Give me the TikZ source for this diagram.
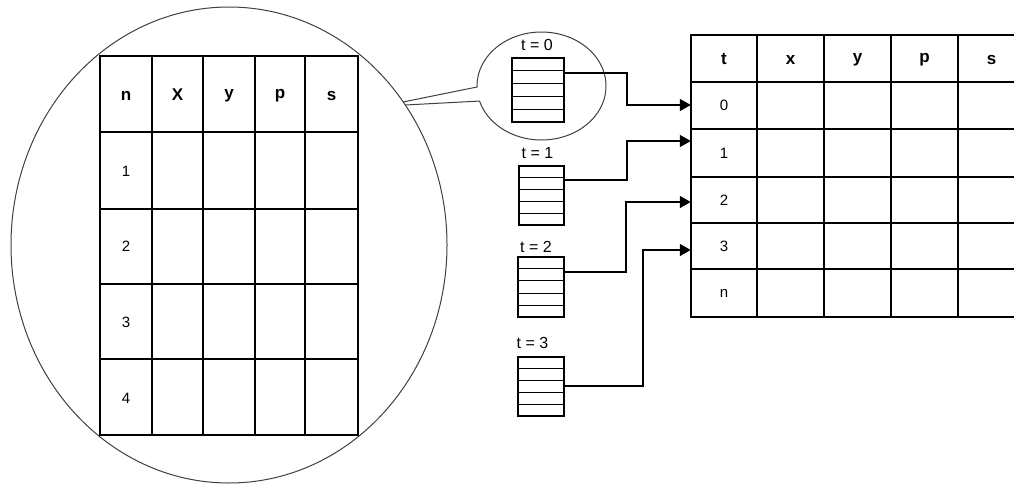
\documentclass[tikz,border=0pt]{standalone}
\usepackage{fontspec}
\setmainfont{Liberation Sans}
\usetikzlibrary{arrows.meta,calc}
\begin{document}
\begin{tikzpicture}[x=1pt,y=-1pt,
  grid/.style={line width=1.3pt,black},
  lens/.style={line width=1pt,black!75},
  link/.style={line width=1.3pt,-{Triangle[length=11pt,width=12pt]}},
  head/.style={font=\fontsize{17}{17}\selectfont\bfseries,inner sep=0pt},
  num/.style={font=\fontsize{15}{15}\selectfont,inner sep=0pt},
  tlabel/.style={font=\fontsize{16}{16}\selectfont,inner sep=0pt},
  stackbox/.style={draw,line width=1.2pt,inner sep=0pt}]
\clip (0,0) rectangle (1014,485);
\fill[white] (0,0) rectangle (1014,485);

% magnified view of one record table
\draw[lens] (229,245) ellipse[x radius=218, y radius=238];
\coordinate (bigedge) at (403,102);

% record table inside the magnifier
\draw[grid] (100,56) rectangle (358,435);
\foreach \x in {152,203,255,305} \draw[grid] (\x,56) -- (\x,435);
\foreach \y in {132,209,284,359} \draw[grid] (100,\y) -- (358,\y);
\node[head] (lh1) at (126,96) {n};
\node[head] (lh2) at (177.5,95) {X};
\node[head] (lh3) at (229,96) {y};
\node[head] (lh4) at (280,96) {p};
\node[head] (lh5) at (331.5,96) {s};
\node[num] (lr1) at (126,171.5) {1};
\node[num] (lr2) at (126,246.5) {2};
\node[num] (lr3) at (126,322) {3};
\node[num] (lr4) at (126,398) {4};

% small lens around the first stack, tied to the big one
\draw[lens] (bigedge) -- (477,87)
  -- plot[domain=178.94:523.8,samples=160] ({541.5+64.5*cos(\x)},{86+54*sin(\x)})
  -- (405,105);

% stacks of records per time step
\node[stackbox,minimum width=52pt,minimum height=64pt] (s0) at (538,90) {};
\node[stackbox,minimum width=45pt,minimum height=59pt] (s1) at (541.5,195.5) {};
\node[stackbox,minimum width=46pt,minimum height=60pt] (s2) at (541,287) {};
\node[stackbox,minimum width=46pt,minimum height=59pt] (s3) at (541,386.5) {};
\foreach \s in {s0,s1,s2,s3}
  \foreach \k in {1,...,4}
    \draw[line width=1.1pt] ($(\s.north west)!\k/5!(\s.south west)$) -- ($(\s.north east)!\k/5!(\s.south east)$);
\node[tlabel] (l0) at (537,45) {t = 0};
\node[tlabel] (l1) at (537.5,153.5) {t = 1};
\node[tlabel] (l2) at (536,247) {t = 2};
\node[tlabel] (l3) at (532.5,343) {t = 3};

% time table
\draw[grid] (691,35) rectangle (1025,317);
\foreach \x in {757,824,891,958} \draw[grid] (\x,35) -- (\x,317);
\foreach \y in {82,129,177,223,269} \draw[grid] (691,\y) -- (1025,\y);
\node[head] (th1) at (724,59) {t};
\node[head] (th2) at (790.5,60) {x};
\node[head] (th3) at (857.5,60) {y};
\node[head] (th4) at (924.5,60) {p};
\node[head] (th5) at (991.5,60) {s};
\node[num,minimum width=66pt,minimum height=47pt] (r0) at (724,105.5) {0};
\node[num,minimum width=66pt,minimum height=47pt] (r1) at (724,153) {1};
\node[num,minimum width=66pt,minimum height=47pt] (r2) at (724,200) {2};
\node[num,minimum width=66pt,minimum height=47pt] (r3) at (724,246) {3};
\node[num,minimum width=66pt,minimum height=47pt] (rn) at (724,293) {n};

% links from each stack to its row
\draw[link] (s0.east |- 0,73) -| (627,105) -- (r0.west |- 0,105);
\draw[link] (s1.east |- 0,180) -| (627,141) -- (r1.west |- 0,141);
\draw[link] (s2.east |- 0,272) -| (626,202) -- (r2.west |- 0,202);
\draw[link] (s3.east |- 0,386) -| (643,250) -- (r3.west |- 0,250);
\end{tikzpicture}
\end{document}
